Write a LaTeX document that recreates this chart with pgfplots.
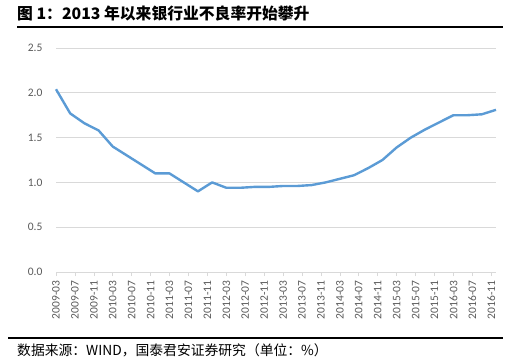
\documentclass[border=0pt]{standalone}
\usepackage{fontspec}
\setmainfont{Carlito}
\newfontfamily\cjk{Noto Sans CJK SC}
\usepackage{pgfplots}
\pgfplotsset{compat=1.18}
\definecolor{lineblue}{HTML}{5B9BD5}
\definecolor{gridgray}{HTML}{D9D9D9}
\definecolor{ticktxt}{HTML}{595959}
\begin{document}
\begin{tikzpicture}[x=1pt,y=1pt]
\useasboundingbox (0,0) rectangle (508,362);
\node[anchor=west,inner sep=0pt,font=\cjk\bfseries\fontsize{15.8}{18}\selectfont] at (17,348) {图 1：2013 年以来银行业不良率开始攀升};
\draw[line width=1.2pt] (17,335) -- (503,335);
\draw[line width=1.2pt] (8,24) -- (503,24);
\node[anchor=west,inner sep=0pt,font=\cjk\fontsize{13.8}{16}\selectfont] at (17,12) {数据来源：WIND，国泰君安证券研究（单位：\%）};
\begin{axis}[
  at={(56pt,90pt)}, anchor=south west,
  scale only axis, width=440pt, height=224pt,
  xmin=0, xmax=93, ymin=0, ymax=2.5,
  ytick={0,0.5,1,1.5,2,2.5},
  yticklabel style={/pgf/number format/fixed,/pgf/number format/fixed zerofill,/pgf/number format/precision=1},
  /pgf/number format/assume math mode=true,
  xtick={0,4,...,92},
  xticklabels={2009-03,2009-07,2009-11,2010-03,2010-07,2010-11,2011-03,2011-07,2011-11,2012-03,2012-07,2012-11,2013-03,2013-07,2013-11,2014-03,2014-07,2014-11,2015-03,2015-07,2015-11,2016-03,2016-07,2016-11},
  x tick label style={rotate=90,anchor=east,font=\fontsize{11.5}{13}\selectfont,text=ticktxt},
  y tick label style={font=\fontsize{11.5}{13}\selectfont,text=ticktxt},
  ymajorgrids, grid style={gridgray,line width=0.8pt},
  axis x line*=bottom, axis y line*=left,
  x axis line style={draw=gridgray,line width=0.8pt,-},
  y axis line style={draw=none},
  xtick style={draw=gridgray,line width=0.6pt},
  ytick style={draw=none},
  major tick length=4pt,
  tick align=outside,
  xticklabel shift=1pt,
  yticklabel shift=6pt,
  clip=false,
]
\addplot[lineblue, line width=2.4pt, line join=round] coordinates {
(0,2.04) (3,1.77) (6,1.66) (9,1.58) (12,1.40) (15,1.30) (18,1.20) (21,1.10)
(24,1.10) (27,1.00) (30,0.90) (33,1.00) (36,0.94) (39,0.94) (42,0.95) (45,0.95)
(48,0.96) (51,0.96) (54,0.97) (57,1.00) (60,1.04) (63,1.08) (66,1.16) (69,1.25)
(72,1.39) (75,1.50) (78,1.59) (81,1.67) (84,1.75) (87,1.75) (90,1.76) (93,1.81)
};
\end{axis}
\end{tikzpicture}
\end{document}
